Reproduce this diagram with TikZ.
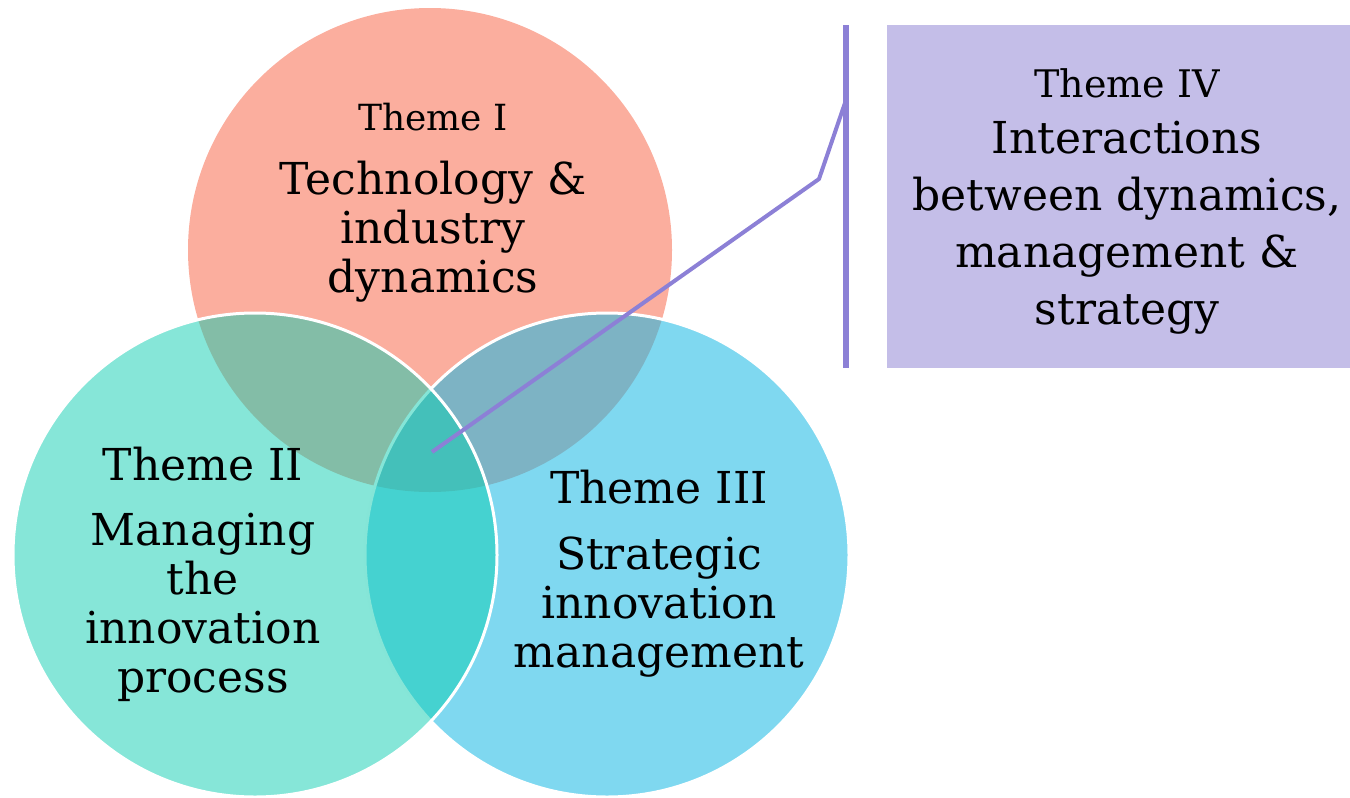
\documentclass[tikz,border=0pt]{standalone}
\usepackage{fontspec}
\setmainfont{DejaVu Serif}
\usetikzlibrary{positioning}
\definecolor{salmon}{RGB}{251,174,158}
\definecolor{tealc}{RGB}{13,205,177}
\definecolor{skyc}{RGB}{22,184,228}
\definecolor{lav}{RGB}{196,190,232}
\definecolor{barc}{RGB}{140,128,214}

\tikzset{
  ttl/.style={inner sep=0pt, anchor=base, font=\fontsize{22}{24.5}\selectfont},
  small ttl/.style={ttl, font=\fontsize{18}{20}\selectfont},
  body/.style={inner sep=0pt, anchor=north, align=center, font=\fontsize{22}{24.5}\selectfont},
}

\begin{document}
\begin{tikzpicture}[x=0.5pt,y=-0.5pt]
\useasboundingbox (0,0) rectangle (1350,798);

% circles
\fill[salmon] (430,250) circle (242);
\filldraw[fill=skyc, fill opacity=0.55, draw=white, line width=1.5pt] (607,555) circle (242);
\filldraw[fill=tealc, fill opacity=0.5, draw=white, line width=1.5pt] (255,555) circle (242);

% theme IV box
\node[fill=lav, minimum width=240.5pt, minimum height=171.5pt, inner sep=0pt] (box) at (1127.5,196.5) {};
\coordinate (bartop) at (846,25);
\coordinate (barbot) at (846,368);
\coordinate (mid) at (432,452);
\coordinate (kink) at (819,179);
\coordinate (join) at (846,100);
\draw[barc, line width=3pt] (bartop) -- (barbot);
\draw[barc, line width=2pt, line join=round] (mid) -- (kink) -- (join);

% labels
\node[small ttl] (t1) at (433,130) {Theme I};
\node[body] (b1) at (433,161) {Technology \&\\industry\\dynamics};

\node[ttl] (t2) at (203,480) {Theme II};
\node[body] (b2) at (203,513) {Managing\\the\\innovation\\process};

\node[ttl] (t3) at (659,503) {Theme III};
\node[body] (b3) at (659,536) {Strategic\\innovation\\management};

\node[small ttl, font=\fontsize{19}{21}\selectfont] (t4) at (1127,97) {Theme IV};
\node[body, font=\fontsize{22}{28.5}\selectfont] (b4) at (1127,121) {Interactions\\between dynamics,\\management \&\\strategy};

\end{tikzpicture}
\end{document}
